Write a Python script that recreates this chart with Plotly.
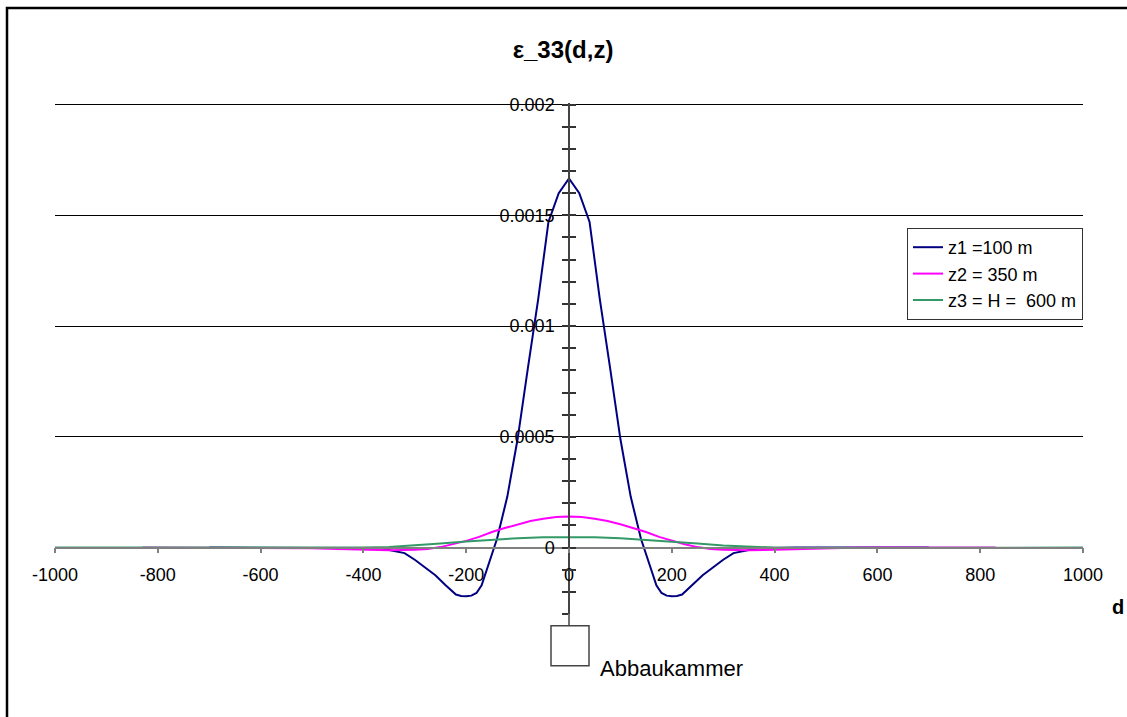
import plotly.graph_objects as go

# distance from the chamber axis d [m]
d_z1 = [-700, -600, -500, -440, -400, -380, -360, -340, -320, -300, -280, -260,
        -240, -220, -210, -200, -190, -180, -170, -160, -140, -120, -100, -80,
        -60, -40, -20, 0, 20, 40, 60, 80, 100, 120, 140, 160, 170, 180, 190,
        200, 210, 220, 240, 260, 280, 300, 320, 340, 360, 380, 400, 440, 500,
        600, 700]
eps_z1 = [0.0, 0.0, 0.0, 0.0, -0.000001, -0.000003, -0.000007, -0.000015,
          -0.000025, -0.000055, -0.00009, -0.000125, -0.00017, -0.000212,
          -0.000219, -0.00022, -0.000217, -0.000205, -0.00017, -0.0001, 0.00004,
          0.00023, 0.00049, 0.00081, 0.00112, 0.00147, 0.0016, 0.001666, 0.0016,
          0.00147, 0.00112, 0.00081, 0.00049, 0.00023, 0.00004, -0.0001,
          -0.00017, -0.000205, -0.000217, -0.00022, -0.000219, -0.000212,
          -0.00017, -0.000125, -0.00009, -0.000055, -0.000025, -0.000015,
          -0.000007, -0.000003, -0.000001, 0.0, 0.0, 0.0, 0.0]

d_z2 = [-830, -700, -600, -550, -500, -450, -400, -350, -300, -275, -250, -225,
        -200, -175, -150, -125, -100, -75, -50, -25, 0, 25, 50, 75, 100, 125,
        150, 175, 200, 225, 250, 275, 300, 350, 400, 450, 500, 550, 600, 700, 830]
eps_z2 = [0.0, 0.0, 0.0, -0.000001, -0.000003, -0.000006, -0.00001, -0.000012,
          -0.00001, -0.000006, 0.000002, 0.000015, 0.00003, 0.000048, 0.00007,
          0.000088, 0.000105, 0.00012, 0.00013, 0.000138, 0.00014, 0.000138,
          0.00013, 0.00012, 0.000105, 0.000088, 0.00007, 0.000048, 0.00003,
          0.000015, 0.000002, -0.000006, -0.00001, -0.000012, -0.00001,
          -0.000006, -0.000003, -0.000001, 0.0, 0.0, 0.0]

d_z3 = [-1000, -800, -700, -600, -500, -450, -400, -350, -300, -250, -200, -150,
        -100, -50, 0, 50, 100, 150, 200, 250, 300, 350, 400, 450, 500, 600, 700,
        800, 1000]
eps_z3 = [0.0, 0.0, 0.0, -0.000001, -0.000002, -0.000002, 0.0, 0.000003, 0.000009,
          0.000018, 0.000027, 0.000035, 0.000042, 0.000046, 0.000047, 0.000046,
          0.000042, 0.000035, 0.000027, 0.000018, 0.000009, 0.000003, 0.0,
          -0.000002, -0.000002, -0.000001, 0.0, 0.0, 0.0]

series_names = ["z1 =100 m", "z2 = 350 m", "z3 = H =\u00a0 600 m"]
series_colors = ["#000080", "#FF00FF", "#339966"]

x_ticks = [-1000, -800, -600, -400, -200, 0, 200, 400, 600, 800, 1000]
x_tick_text = ["-1000", "-800", "-600", "-400", "-200", "0", "200", "400",
               "600", "800", "1000"]
y_ticks = [0, 0.0005, 0.001, 0.0015, 0.002]
y_tick_text = ["0", "0.0005", "0.001", "0.0015", "0.002"]
y_minor_ticks = [-0.0003, -0.0002, -0.0001, 0.0001, 0.0002, 0.0003, 0.0004,
                 0.0006, 0.0007, 0.0008, 0.0009, 0.0011, 0.0012, 0.0013,
                 0.0014, 0.0016, 0.0017, 0.0018, 0.0019]

FONT = "Liberation Sans, Arial, sans-serif"
x_range = [-1000, 1000]
# a little headroom above 0.002 so the top grid line is kept
y_range = [-0.0003, 0.002007]
# paper-y of the horizontal axis crossing at eps = 0
x_axis_pos = (0 - y_range[0]) / (y_range[1] - y_range[0])

fig = go.Figure()
for xs, ys, name, col in zip([d_z1, d_z2, d_z3], [eps_z1, eps_z2, eps_z3],
                             series_names, series_colors):
    fig.add_trace(go.Scatter(x=xs, y=ys, mode="lines", name=name,
                             line=dict(color=col, width=2)))

# invisible trace carrying the second (inward-tick) vertical axis
fig.add_trace(go.Scatter(x=[0], y=[0], yaxis="y2", mode="markers",
                         marker=dict(opacity=0), showlegend=False,
                         hoverinfo="skip"))

tick_style = dict(tickcolor="#333333", tickwidth=1.5, ticklen=6)

fig.update_layout(
    width=1127, height=717,
    margin=dict(l=55, r=44, t=103, b=103),
    paper_bgcolor="white", plot_bgcolor="white",
    font=dict(family=FONT, size=18, color="black"),
    title=dict(text="<b>ε_33(d,z)</b>", x=(563 - 55) / 1028, xref="paper",
               xanchor="center", y=1 - 50 / 717, yanchor="middle",
               font=dict(size=24, family=FONT, color="black")),
    xaxis=dict(range=x_range, anchor="free", position=x_axis_pos,
               showgrid=False, zeroline=False, showline=True,
               linecolor="#808080", linewidth=1.5,
               tickvals=x_ticks, ticktext=x_tick_text,
               ticks="outside", ticklen=5, tickcolor="#808080", tickwidth=1.5,
               ticklabelstandoff=6,
               tickfont=dict(size=18, family=FONT, color="black")),
    yaxis=dict(range=y_range, anchor="free", position=0.5,
               showgrid=True, gridcolor="black", gridwidth=1,
               zeroline=False, showline=True, linecolor="#444444", linewidth=1.5,
               tickvals=y_ticks, ticktext=y_tick_text,
               ticks="outside", **tick_style,
               minor=dict(tickvals=y_minor_ticks, ticks="outside",
                          showgrid=False, **tick_style),
               ticklabelstandoff=4,
               tickfont=dict(size=18, family=FONT, color="black")),
    yaxis2=dict(range=y_range, overlaying="y", anchor="free", position=0.5,
                showgrid=False, zeroline=False, showline=False,
                showticklabels=False,
                tickvals=y_ticks, ticks="inside", **tick_style,
                minor=dict(tickvals=y_minor_ticks, ticks="inside",
                           showgrid=False, **tick_style)),
    legend=dict(x=(907 - 55) / 1028, y=(614 - 228) / 511, xanchor="left",
                yanchor="top", bgcolor="white", bordercolor="#333333",
                borderwidth=1, font=dict(size=18, family=FONT, color="black"),
                tracegroupgap=0),
    showlegend=True,
)

# chamber sketch below the vertical axis
fig.add_shape(type="line", xref="paper", yref="paper", x0=0.5, x1=0.5,
              y0=0, y1=-0.0228, line=dict(color="#444444", width=1.5))
fig.add_shape(type="rect", xref="paper", yref="paper",
              x0=(551 - 55) / 1028, x1=(589 - 55) / 1028,
              y0=-0.1013, y1=-0.0228, line=dict(color="#444444", width=1.5),
              fillcolor="white")
fig.add_annotation(text="Abbaukammer", xref="paper", yref="paper",
                   x=(598 - 55) / 1028, y=(614 - 668) / 511, xanchor="left",
                   yanchor="middle", showarrow=False,
                   font=dict(size=22, family=FONT, color="black"))
fig.add_annotation(text="<b>d</b>", xref="paper", yref="paper",
                   x=(1118 - 55) / 1028, y=(614 - 607) / 511, xanchor="center",
                   yanchor="middle", showarrow=False,
                   font=dict(size=20, family=FONT, color="black"))

# outer chart frame
fig.add_shape(type="rect", xref="paper", yref="paper",
              x0=(7 - 55) / 1028, x1=1.2, y0=-0.3, y1=(614 - 8) / 511,
              line=dict(color="black", width=2.5), fillcolor="rgba(0,0,0,0)")

fig.write_html("out.html")
